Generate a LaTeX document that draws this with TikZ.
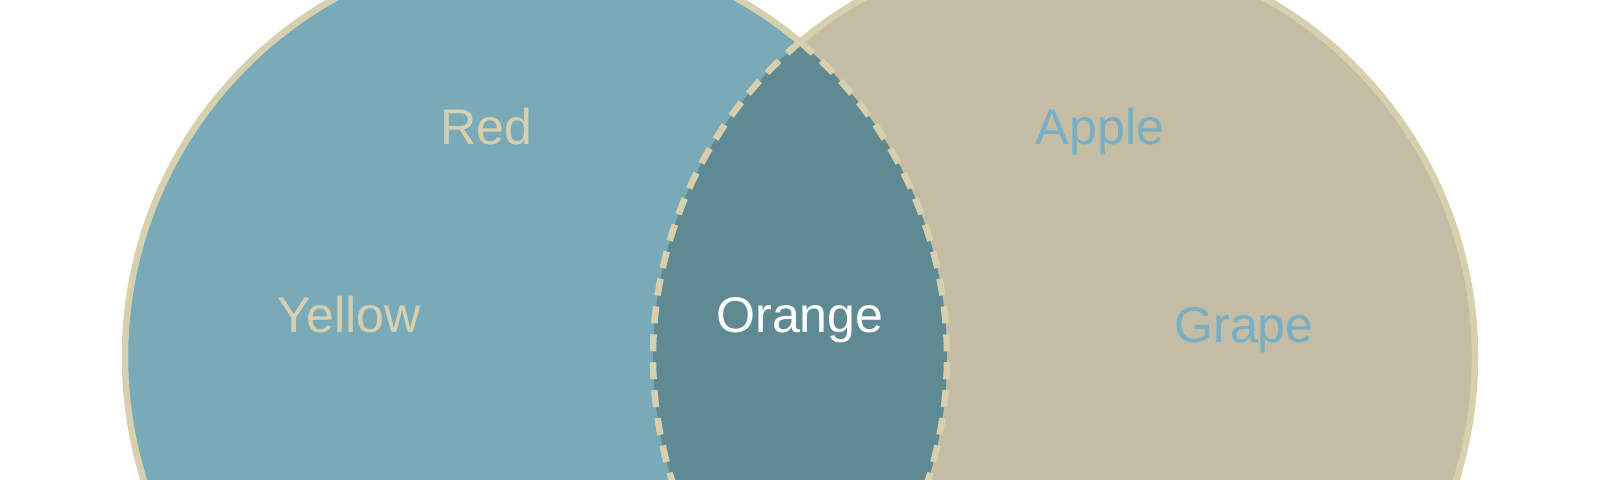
\documentclass[tikz,border=0pt]{standalone}
\usepackage{fontspec}
\setmainfont{Liberation Sans}
\definecolor{setblue}{HTML}{78ABB7}
\definecolor{setsand}{HTML}{C4BDA4}
\definecolor{setboth}{HTML}{5F8A93}
\definecolor{rimcol}{HTML}{D8CFAE}
\definecolor{bluetext}{HTML}{78AFC4}
\begin{document}
\begin{tikzpicture}[x=0.02cm, y=0.02cm, every node/.style={anchor=base, font=\fontsize{28.5}{34}\selectfont}]
			\useasboundingbox (0,0) rectangle (1600,480);
			\clip (0,0) rectangle (1600,480);
			\coordinate (cleft) at (536,123);
			\coordinate (cright) at (1064,123);
			% Fills
			\fill[setblue] (cleft) circle (411);
			\fill[setsand] (cright) circle (411);
			\begin{scope}
				\clip (cleft) circle (411);
				\fill[setboth] (cright) circle (411);
			\end{scope}
			% Rims
			\draw[rimcol, line width=0.13cm] ([shift={(50:411)}]cleft) arc (50:310:411);
			\draw[rimcol, line width=0.13cm] ([shift={(130:411)}]cright) arc (130:-130:411);
			\draw[rimcol, line width=0.13cm, dash pattern=on 0.34cm off 0.22cm] ([shift={(50:411)}]cleft) arc (50:-50:411);
			\draw[rimcol, line width=0.13cm, dash pattern=on 0.34cm off 0.22cm] ([shift={(130:411)}]cright) arc (130:230:411);
			% Labels
			\node[text=rimcol] (red) at (486,335) {Red};
			\node[text=rimcol] (yellow) at (349,147) {Yellow};
			\node[text=white] (orange) at (800,147) {Orange};
			\node[text=bluetext] (apple) at (1100,335) {Apple};
			\node[text=bluetext] (grape) at (1244,137) {Grape};
		\end{tikzpicture}
\end{document}
